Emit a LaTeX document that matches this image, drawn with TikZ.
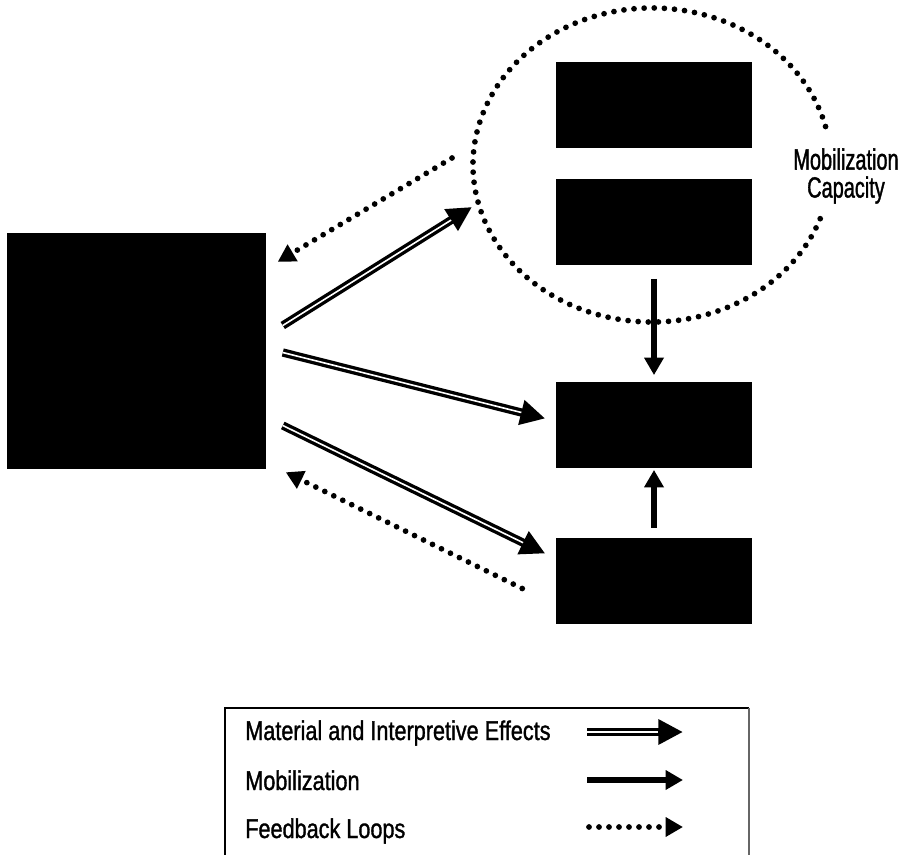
\documentclass[tikz,border=0pt]{standalone}
\usepackage{fontspec}
\setmainfont{Liberation Sans}
\newfontfamily\keyfont[FakeStretch=0.8,FakeBold=1.2]{Liberation Sans}
\newfontfamily\tagfont[FakeStretch=0.68,FakeBold=1.2]{Liberation Sans}
\usetikzlibrary{arrows.meta,calc}

\tikzset{
  factor/.style={draw, fill=black, inner sep=0pt, minimum width=146.25pt, minimum height=63.75pt},
  effect/.style={line width=6.2pt, -{Triangle[length=18.5pt,width=18pt]},
    postaction={draw=white, line width=1.2pt, -, shorten >=18.5pt}},
  mobil/.style={line width=4pt, -{Triangle[length=13pt,width=14pt]}},
  feedback/.style={line width=4.3pt, line cap=round, dash pattern=on 0pt off 7.5pt,
    -{Triangle[length=13pt,width=14pt]}},
  capacity/.style={line width=4.3pt, line cap=round, dash pattern=on 0pt off 7.6pt},
  keytext/.style={anchor=base west, inner sep=0pt, font=\keyfont\fontsize{20.3}{24}\selectfont},
}

\begin{document}
\begin{tikzpicture}[x=0.75pt,y=0.75pt,yscale=-1,xscale=1]
\clip (0,0) rectangle (906,855);
% boxes
\node[factor, minimum width=193.5pt, minimum height=176.25pt] (lft) at (136.5,350.5) {};
\node[factor] (cap1) at (654,105) {};
\node[factor] (cap2) at (654,222) {};
\node[factor] (mid) at (654,424.5) {};
\node[factor] (bot) at (654,580.5) {};
% mobilization capacity ring
\coordinate (capcentre) at (652,165);
\draw[capacity] ($(capcentre)+(20:179 and 157)$) arc[start angle=20, end angle=346, x radius=179, y radius=157];
\node[font=\tagfont\fontsize{22}{21}\selectfont, align=center, inner sep=0pt] (caplbl) at (846,176) {Mobilization\\Capacity};
% effects
\draw[effect] ($(lft.east)+(17,-25)$) -- ($(capcentre)+(-180,42)$);
\draw[effect] ($(lft.east)+(17,2)$) -- ($(mid.west)+(-11,-6)$);
\draw[effect] ($(lft.east)+(17,75)$) -- ($(bot.west)+(-11,-27)$);
% feedback loops
\draw[feedback] ($(capcentre)+(-200,-7)$) -- ($(lft.north east)+(12,29)$);
\draw[feedback] ($(bot.west)+(-34,8)$) -- ($(lft.south east)+(20,4)$);
% mobilization
\draw[mobil, shorten <=10.5pt, shorten >=5pt] (cap2.south) -- (mid.north);
\draw[mobil, shorten <=7.5pt, shorten >=2pt] (bot.north) -- (mid.south);
% legend
\draw[line width=1.6pt] (225,880) -- (225,708) -- (749,708);
\draw[line width=0.8pt, black!60] (749,708) -- (749,880);
\node[keytext] (keyeff) at (245,740) {Material and Interpretive Effects};
\node[keytext] (keymob) at (245,790) {Mobilization};
\node[keytext] (keyfb) at (245,838) {Feedback Loops};
\coordinate (k1a) at (587,732); \coordinate (k1b) at (683,732);
\coordinate (k2a) at (587,780); \coordinate (k2b) at (683,780);
\coordinate (k3a) at (589,827); \coordinate (k3b) at (683,827);
\draw[effect] (k1a) -- (k1b);
\draw[mobil] (k2a) -- (k2b);
\draw[feedback] (k3a) -- (k3b);
\end{tikzpicture}
\end{document}
